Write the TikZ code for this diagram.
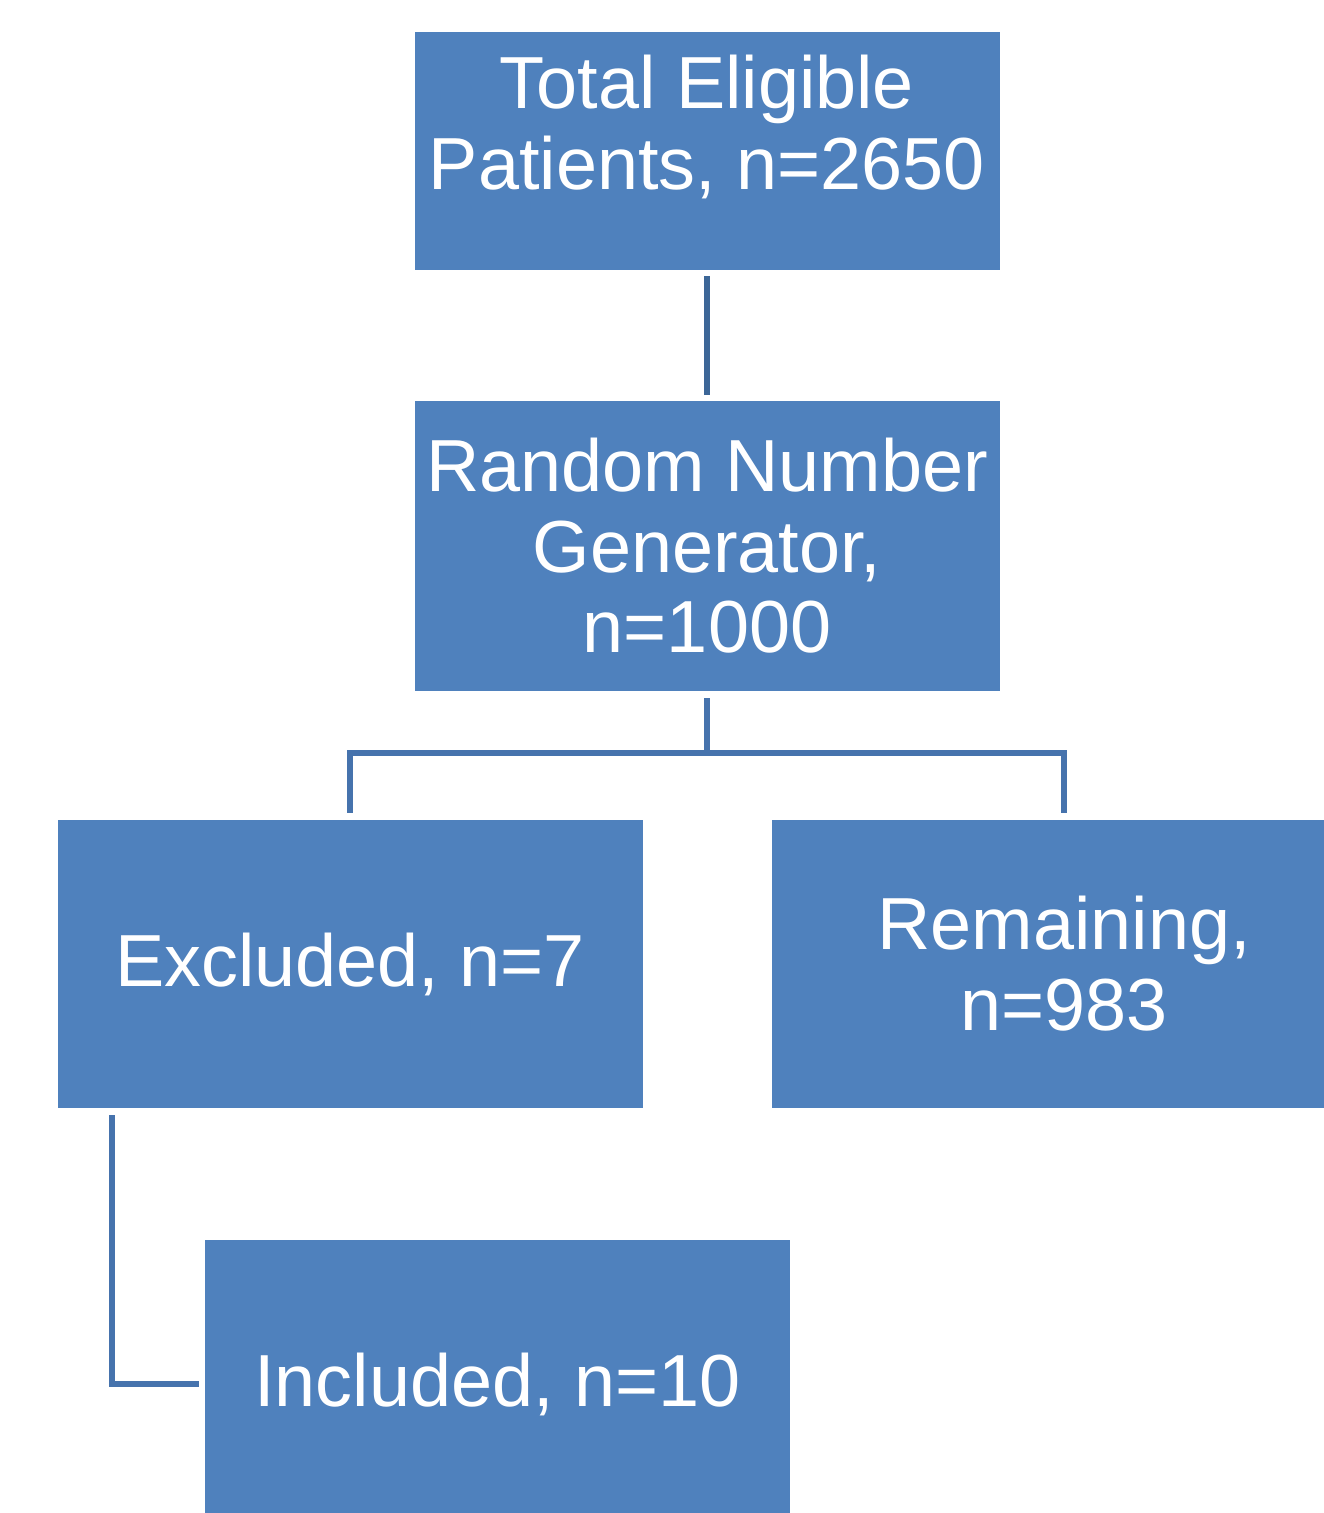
\documentclass[tikz,border=0pt]{standalone}
\usepackage{fontspec}
\setmainfont{Liberation Sans}
\usetikzlibrary{positioning}

\definecolor{boxblue}{HTML}{4F81BD}
\definecolor{lineblue}{HTML}{4673AD}
\definecolor{darkline}{HTML}{3C6697}

\tikzset{
	boxtext/.style = {text = white, align = center, inner sep = 0 pt, font = \fontsize{42}{46}\selectfont},
	box/.style = {boxtext, fill = boxblue, minimum width = 11.7 cm, minimum height = 5.76 cm},
	conn/.style = {draw = lineblue, line width = 3.4 pt}
}

\begin{document}
\begin{tikzpicture}

	% Page (1 px = 0.02 cm)
	
	\useasboundingbox (0, 0) rectangle (26.46, -30.26);
	
	% Boxes
	
	\node [box, minimum height = 4.76 cm] (total) at (14.14, -3.02) {};
	\node [boxtext] (total text) at ([yshift = 0.48 cm] total.center) {Total Eligible\\Patients, n=2650};
	\node [box, minimum height = 5.8 cm, below = 2.6 cm of total] (rng) {Random Number\\Generator,\\n=1000};
	\node [box] (excl) at (7.0, -19.28) {Excluded, n=7};
	\node [box] (rem) at (21.28, -19.28) {Remaining,\\n=983};
	\node [box] (incl) at (9.95, -27.68) {Included, n=10};
	
	% Connectors
	
	\draw [conn, draw = darkline] ([yshift = -0.12 cm] total.south) -- ([yshift = 0.1 cm] rng.north);
	
	\coordinate (split) at (14.14, -15.06);
	\draw [conn] ([yshift = -0.14 cm] rng.south) -- (split);
	\draw [conn] ([yshift = 0.14 cm] excl.north) |- (split) -| ([yshift = 0.14 cm] rem.north);
	
	\draw [conn] ([xshift = 1.1 cm, yshift = -0.14 cm] excl.south west) |- ([xshift = -0.12 cm] incl.west);

\end{tikzpicture}
\end{document}
